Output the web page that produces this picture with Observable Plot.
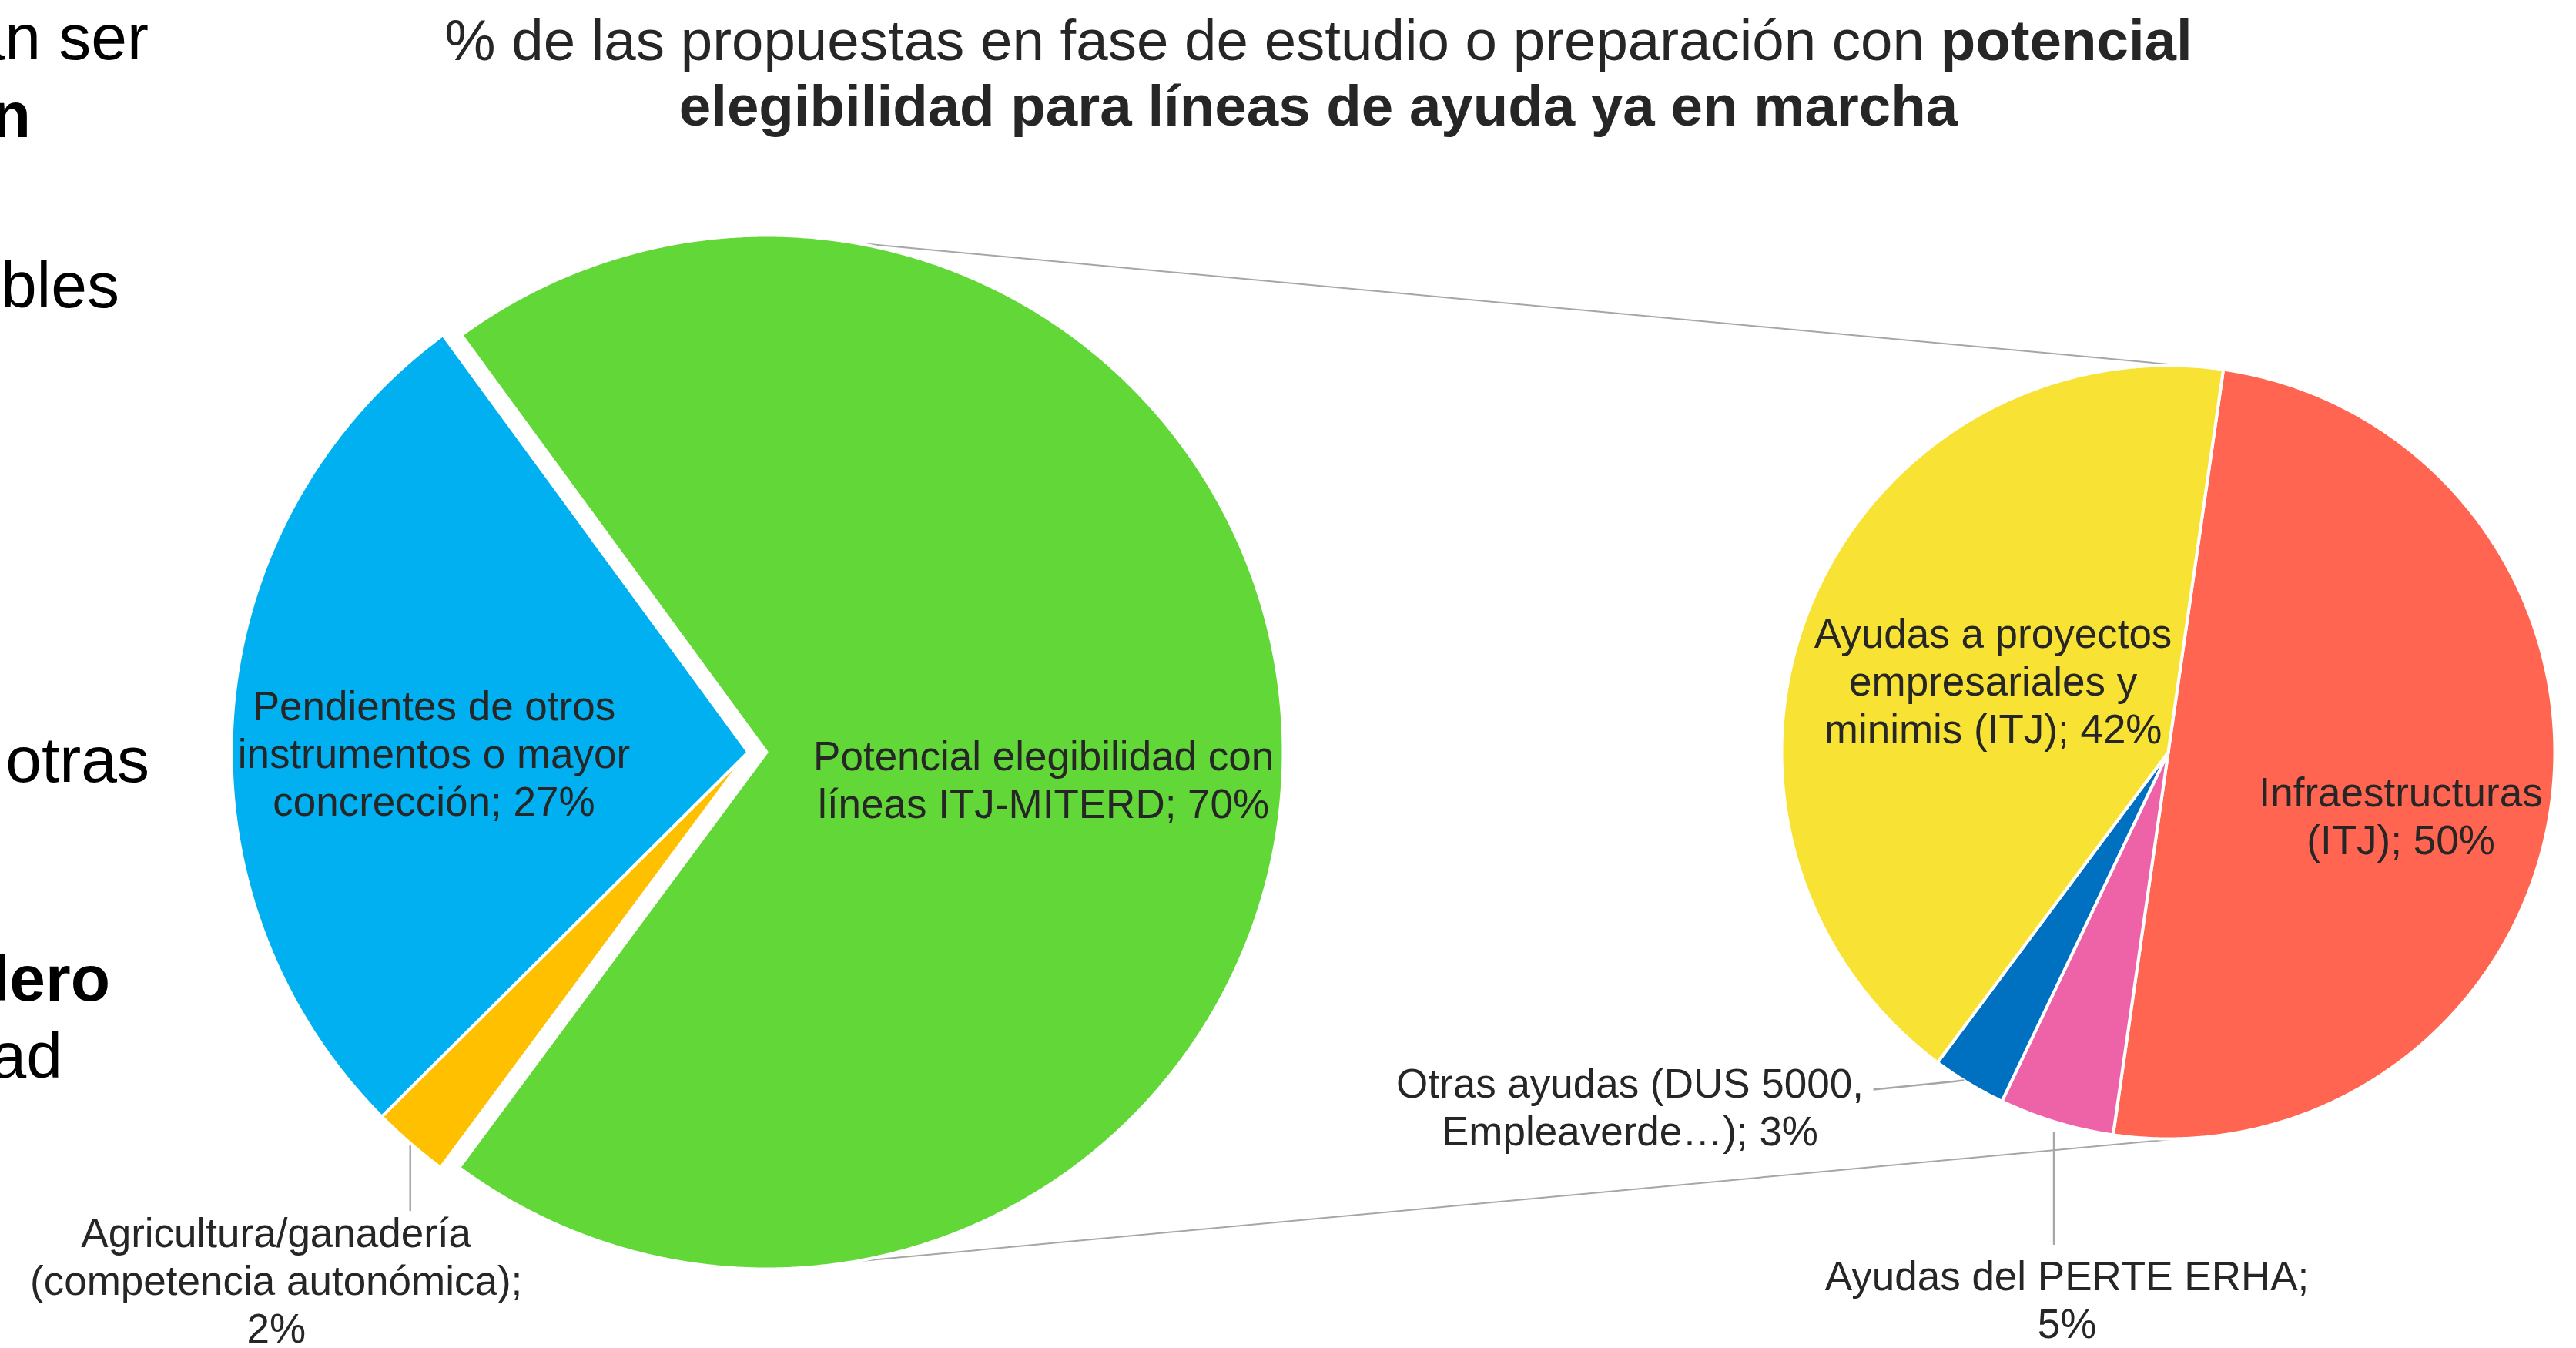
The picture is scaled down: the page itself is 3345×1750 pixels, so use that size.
<!DOCTYPE html>
<html>
<head>
<meta charset="utf-8">
<script src="https://cdn.jsdelivr.net/npm/d3@7"></script>
<script src="https://cdn.jsdelivr.net/npm/@observablehq/plot@0.6"></script>
<style>
  body { margin: 0; background: #fff; }
  #wrap { position: relative; width: 3345px; height: 1750px; overflow: hidden;
          font-family: "Liberation Sans", Arial, sans-serif; }
  #chart { position: absolute; left: 0; top: 0; }
  #title { position: absolute; left: 0; top: 10px; width: 3424px; text-align: center;
           font-size: 74.5px; line-height: 85px; color: #262626; }
  .frag { position: absolute; width: 600px; text-align: right; white-space: nowrap;
          font-size: 84px; line-height: 84px; color: #000; }
</style>
</head>
<body>
<div id="wrap">
  <div id="chart"></div>
  <div id="title"></div>
  <div id="frags"></div>
</div>
<script>
// ---------------- data ----------------
const titleRegular = "% de las propuestas en fase de estudio o preparación con ";
const titleBold1 = "potencial";
const titleBold2 = "elegibilidad para líneas de ayuda ya en marcha";

// left (main) pie, clockwise from its first slice
const mainCategories = [
  "Potencial elegibilidad con\nlíneas ITJ-MITERD",
  "Agricultura/ganadería\n(competencia autonómica)",
  "Pendientes de otros\ninstrumentos o mayor\nconcrección"
];
const mainValues = [70.2, 2.4, 27.4];
const mainColors = ["#62D838", "#FFC000", "#00B0F0"];
const mainPctBreak = [false, true, false];

// right (secondary) pie, clockwise from its first slice
const subCategories = [
  "Infraestructuras\n(ITJ)",
  "Ayudas del PERTE ERHA",
  "Otras ayudas (DUS 5000,\nEmpleaverde…)",
  "Ayudas a proyectos\nempresariales y\nminimis (ITJ)"
];
const subValues = [50, 4.8, 3.1, 42.1];
const subColors = ["#FF6550", "#EE62A8", "#0070C0", "#F8E233"];
const subPctBreak = [false, true, false, false];

// fragments of a neighbouring text box, cut by the left edge
const fragTexts = ["an ser", "n", "bles", "otras", "lero", "ad"];
const fragBold = [false, true, false, false, true, false];

// ---------------- layout ----------------
const W = 3345, H = 1750;
const deg = Math.PI / 180;
const mainGeo = { cx: 995, cy: 976, r: 671, start: -36.2,
  offsets: [[0, 0], [-24, 0], [-24, 0]],
  labels: [
    { kind: "in", f: 0.536, dx: 0, dy: 34 },
    { kind: "out", lead: [0, 3, 0, 88], text: [-174, 177] },
    { kind: "in", f: 0.61, dx: 0, dy: 33 }
  ] };
const subGeo = { cx: 2815, cy: 976, r: 502, start: 8.2,
  offsets: [[0, 0], [0, 0], [0, 0], [0, 0]],
  labels: [
    { kind: "in", f: 0.618, dx: -5, dy: 37 },
    { kind: "out", lead: [-3, 12, -3, 159], text: [14, 229] },
    { kind: "out", lead: [-6, -4, -124, 8], text: [-440, 30] },
    { kind: "in", f: 0.49, dx: 0, dy: 0 }
  ] };
const fragPos = [[193, 77], [40, 178], [155, 399], [194, 1015], [143, 1299], [81, 1399]];
const connectorAngles = [[9.8, 2.6], [170.2, 178.6]];

// ---------------- html text ----------------
const t = document.getElementById("title");
t.innerHTML = "";
t.append(titleRegular);
const b1 = document.createElement("b"); b1.textContent = titleBold1; t.append(b1);
t.append(document.createElement("br"));
const b2 = document.createElement("b"); b2.textContent = titleBold2; t.append(b2);

const fr = document.getElementById("frags");
fragTexts.forEach((s, i) => {
  const d = document.createElement("div");
  d.className = "frag";
  d.textContent = s;
  d.style.left = (fragPos[i][0] - 600) + "px";
  d.style.top = (fragPos[i][1] - 71) + "px";
  if (fragBold[i]) d.style.fontWeight = "bold";
  fr.append(d);
});

// ---------------- geometry from data ----------------
function buildPie(values, colors, names, pctBreak, geo) {
  const arcs = d3.pie().sort(null).value(d => d)
    .startAngle(geo.start * deg).endAngle(geo.start * deg + 2 * Math.PI)(values);
  return arcs.map((a, i) => {
    const cx = geo.cx + geo.offsets[i][0], cy = geo.cy + geo.offsets[i][1];
    const span = a.endAngle - a.startAngle;
    const n = Math.max(2, Math.ceil(span / (0.25 * deg)));
    const pts = [{ x: cx, y: cy }];
    for (let k = 0; k <= n; k++) {
      const ang = a.startAngle + span * k / n;
      pts.push({ x: cx + geo.r * Math.sin(ang), y: cy - geo.r * Math.cos(ang) });
    }
    const mid = (a.startAngle + a.endAngle) / 2;
    const label = names[i] + ";" + (pctBreak[i] ? "\n" : " ") + Math.round(values[i]) + "%";
    const L = geo.labels[i];
    let lx, ly, lead = null;
    if (L.kind === "in") {
      lx = cx + L.f * geo.r * Math.sin(mid) + L.dx;
      ly = cy - L.f * geo.r * Math.cos(mid) + L.dy;
    } else {
      const ax = cx + geo.r * Math.sin(mid), ay = cy - geo.r * Math.cos(mid);
      lead = { x1: ax + L.lead[0], y1: ay + L.lead[1], x2: ax + L.lead[2], y2: ay + L.lead[3] };
      lx = ax + L.text[0]; ly = ay + L.text[1];
    }
    return { pts, color: colors[i], label, lx, ly, lead };
  });
}

const mainSlices = buildPie(mainValues, mainColors, mainCategories, mainPctBreak, mainGeo);
const subSlices = buildPie(subValues, subColors, subCategories, subPctBreak, subGeo);
const allSlices = mainSlices.concat(subSlices);

const connectors = connectorAngles.map(([a1, a2]) => ({
  x1: mainGeo.cx + mainGeo.r * Math.sin(a1 * deg), y1: mainGeo.cy - mainGeo.r * Math.cos(a1 * deg),
  x2: subGeo.cx + subGeo.r * Math.sin(a2 * deg), y2: subGeo.cy - subGeo.r * Math.cos(a2 * deg)
}));
const leaders = allSlices.filter(s => s.lead).map(s => s.lead);

const font = "Liberation Sans, Arial, sans-serif";
const chart = Plot.plot({
  width: W, height: H,
  margin: 0,
  x: { type: "linear", domain: [0, W], range: [0, W], axis: null },
  y: { type: "linear", domain: [0, H], range: [0, H], axis: null },
  style: { background: "transparent", fontFamily: font },
  marks: [
    Plot.link(connectors, { x1: "x1", y1: "y1", x2: "x2", y2: "y2", stroke: "#A6A6A6", strokeWidth: 2 }),
    ...allSlices.map(s => Plot.line(s.pts, {
      x: "x", y: "y", fill: s.color, stroke: "#ffffff", strokeWidth: 4,
      strokeLinejoin: "round", curve: "linear-closed"
    })),
    Plot.link(leaders, { x1: "x1", y1: "y1", x2: "x2", y2: "y2", stroke: "#A6A6A6", strokeWidth: 2.5 }),
    Plot.text(allSlices, {
      x: "lx", y: "ly", text: "label", fontSize: 53, fontFamily: font,
      fill: "#262626", lineHeight: 1.17, textAnchor: "middle"
    })
  ]
});
document.getElementById("chart").append(chart);
</script>
</body>
</html>
